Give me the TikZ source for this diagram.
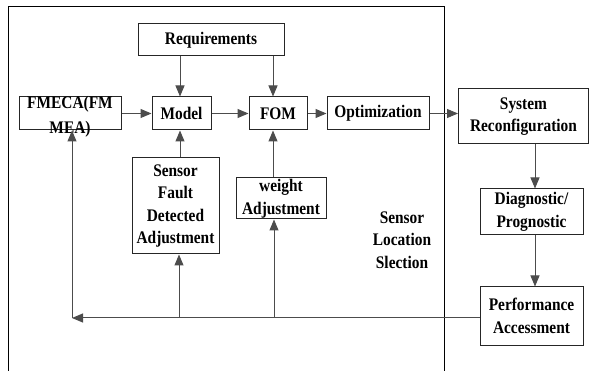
\documentclass[tikz,border=0pt]{standalone}
\usepackage{fontspec}
\setmainfont{Liberation Serif}[FakeStretch=0.87]
\usetikzlibrary{arrows.meta}
\begin{document}
\begin{tikzpicture}[x=1pt,y=-1pt,
  every node/.style={font=\fontsize{17.7}{22.5}\selectfont\bfseries, align=center},
  box/.style={draw=black!85, line width=1pt, inner sep=1pt},
  arr/.style={draw=black!70, line width=1pt, -{Triangle[length=11pt,width=9pt]}},
  ln/.style={draw=black!70, line width=1pt}]
\useasboundingbox (0,0) rectangle (589,371);
% outer frame
\draw[line width=1pt] (8,371) -- (8,7) -- (444,7) -- (444,371);
% nodes
\node[box, minimum width=146pt, minimum height=32pt] (req) at (211,40) {Requirements};
\node[box, minimum width=102pt, minimum height=33pt] (fmeca) at (70,113.5) {};
\node[inner sep=0pt, font=\fontsize{17.7}{25}\selectfont\bfseries] (fmecat) at (70,117) {FMECA(FM\\MEA)};
\node[box, minimum width=59pt, minimum height=33pt] (model) at (181.5,113.5) {Model};
\node[box, minimum width=58pt, minimum height=33pt] (fom) at (278,113.5) {FOM};
\node[box, minimum width=102pt, minimum height=33pt] (opt) at (378,113.5) {Optimization};
\node[box, minimum width=130pt, minimum height=55pt] (sys) at (523.5,116.5) {System\\Reconfiguration};
\node[box, minimum width=103pt, minimum height=46pt] (diag) at (531.5,212) {Diagnostic/\\Prognostic};
\node[box, minimum width=103pt, minimum height=58pt] (perf) at (531.5,316) {Performance\\Accessment};
\node[box, minimum width=87pt, minimum height=96pt] (sfd) at (175.5,206) {Sensor\\Fault\\Detected\\Adjustment};
\node[box, minimum width=90pt, minimum height=41pt] (wadj) at (281,198.5) {weight\\Adjustment};
\node (sls) at (402,240) {Sensor\\Location\\Slection};
% helper coordinates
\coordinate (fb) at (72,318);
\coordinate (xa) at (180,0);
\coordinate (xb) at (273,0);
\coordinate (xc) at (535,0);
% connectors
\draw[arr] (req.south -| xa) -- (model.north -| xa);
\draw[arr] (req.south -| xb) -- (fom.north -| xb);
\draw[arr] (fmeca.east) -- (model.west);
\draw[arr] (model.east) -- (fom.west);
\draw[arr] (fom.east) -- (opt.west);
\draw[arr] (opt.east) -- (sys.west |- opt.east);
\draw[arr] (sys.south -| xc) -- (diag.north -| xc);
\draw[arr] (diag.south -| xc) -- (perf.north -| xc);
\draw[arr] (sfd.north -| xa) -- (model.south -| xa);
\draw[arr] (wadj.north -| xb) -- (fom.south -| xb);
\draw[arr] (perf.west |- fb) -- (fb);
\draw[arr] (fb) -- (fmeca.south -| fb);
\draw[arr] (fb -| 179,0) -- (sfd.south -| 179,0);
\draw[arr] (fb -| 274,0) -- (wadj.south -| 274,0);
\end{tikzpicture}
\end{document}
